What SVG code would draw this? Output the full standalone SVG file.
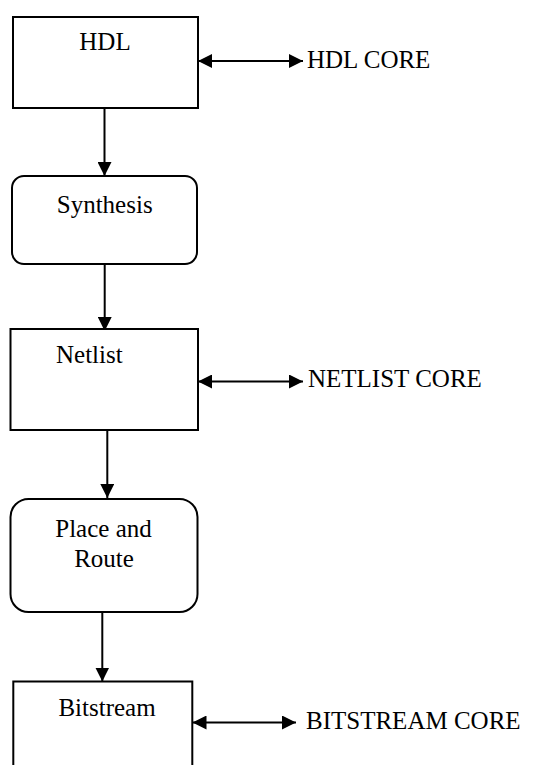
<svg xmlns="http://www.w3.org/2000/svg" width="536" height="765" viewBox="0 0 536 765">
<style>
.box{fill:#fff;stroke:#000;stroke-width:2}
.lbl{font-family:"Liberation Serif","Times New Roman",serif;font-size:25px;fill:#000}
.c{text-anchor:middle}
.ln{stroke:#000;stroke-width:2;fill:none}
</style>
<defs>
<marker id="ah" viewBox="0 0 14 14" refX="14" refY="7" markerWidth="14" markerHeight="14" markerUnits="userSpaceOnUse" orient="auto-start-reverse">
<path d="M0,0 L14,7 L0,14 Z" fill="#000"/>
</marker>
</defs>
<rect width="536" height="765" fill="#fff"/>
<g id="connectors">
<line class="ln" x1="104.5" y1="108" x2="104.5" y2="176" marker-end="url(#ah)"/>
<line class="ln" x1="104.7" y1="264" x2="104.7" y2="331" marker-end="url(#ah)"/>
<line class="ln" x1="107.3" y1="430" x2="107.3" y2="498" marker-end="url(#ah)"/>
<line class="ln" x1="102.3" y1="612" x2="102.3" y2="681.5" marker-end="url(#ah)"/>
<line class="ln" x1="198" y1="61" x2="303" y2="61" marker-start="url(#ah)" marker-end="url(#ah)"/>
<line class="ln" x1="198" y1="381.5" x2="303" y2="381.5" marker-start="url(#ah)" marker-end="url(#ah)"/>
<line class="ln" x1="192.5" y1="722.5" x2="296" y2="722.5" marker-start="url(#ah)" marker-end="url(#ah)"/>
</g>
<g id="hdl">
<rect class="box" x="13" y="17" width="185" height="91"/>
<text class="lbl c" x="105" y="50">HDL</text>
</g>
<g id="hdl-core">
<text class="lbl" x="307" y="68">HDL CORE</text>
</g>
<g id="synthesis">
<rect class="box" x="12" y="176" width="185" height="88" rx="12" ry="12"/>
<text class="lbl c" x="104.7" y="213">Synthesis</text>
</g>
<g id="netlist">
<rect class="box" x="10.5" y="329" width="187.5" height="101"/>
<text class="lbl" x="56" y="363">Netlist</text>
</g>
<g id="netlist-core">
<text class="lbl" x="308" y="387">NETLIST CORE</text>
</g>
<g id="place-route">
<rect class="box" x="10.5" y="499" width="187" height="113" rx="18" ry="18"/>
<text class="lbl c" x="103.5" y="537">Place and</text>
<text class="lbl c" x="104" y="567">Route</text>
</g>
<g id="bitstream">
<rect class="box" x="13.3" y="681.5" width="179" height="100"/>
<text class="lbl c" x="107" y="716">Bitstream</text>
</g>
<g id="bitstream-core">
<text class="lbl" x="306" y="728.5">BITSTREAM CORE</text>
</g>
</svg>
